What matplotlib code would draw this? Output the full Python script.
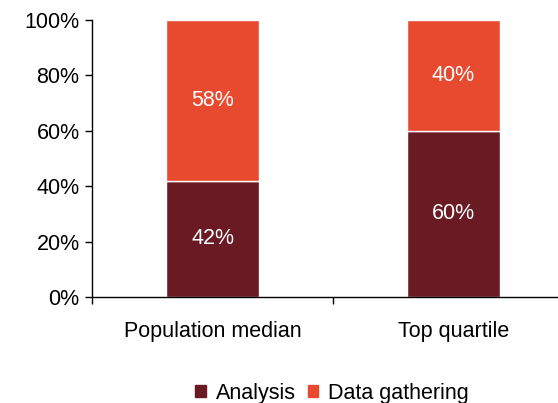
import matplotlib
matplotlib.use("Agg")
import matplotlib.pyplot as plt
from matplotlib.patches import Patch
import numpy as np

plt.rcParams['font.family'] = ['Liberation Sans', 'DejaVu Sans']

categories = ["Population median", "Top quartile"]
analysis = [42, 60]
data_gathering = [58, 40]
y_ticks = [0, 20, 40, 60, 80, 100]
y_tick_labels = ["0%", "20%", "40%", "60%", "80%", "100%"]

c_analysis = "#6A1A23"
c_gather = "#E84A30"
fs = 15.5

fig = plt.figure(figsize=(5.58, 4.03), dpi=100)
ax = fig.add_axes([92/558, 1 - 297/403, 482/558, 277/403])

x = np.arange(len(categories))
w = 0.39
ax.bar(x, analysis, width=w, color=c_analysis, edgecolor="white", linewidth=1)
ax.bar(x, data_gathering, width=w, bottom=analysis, color=c_gather,
       edgecolor="white", linewidth=1)

for xi, a, d in zip(x, analysis, data_gathering):
    ax.text(xi, a / 2, f"{a}%", ha="center", va="center", color="white", fontsize=fs)
    ax.text(xi, a + d / 2, f"{d}%", ha="center", va="center", color="white", fontsize=fs)

ax.set_xlim(-0.5, len(categories) - 0.5)
ax.set_ylim(0, 100)
ax.set_yticks(y_ticks)
ax.set_yticklabels(y_tick_labels, fontsize=fs)
ax.set_xticks(x)
ax.set_xticklabels(categories, fontsize=fs)
ax.tick_params(axis="x", which="major", length=0, pad=17)
ax.set_xticks(np.arange(-0.5, len(categories)), minor=True)
ax.tick_params(axis="x", which="minor", length=5, width=1, direction="out")
ax.tick_params(axis="y", length=5, width=1, direction="out", pad=4)

for s in ["top", "right"]:
    ax.spines[s].set_visible(False)
for s in ["left", "bottom"]:
    ax.spines[s].set_linewidth(1)

handles = [Patch(color=c_analysis, label="Analysis"),
           Patch(color=c_gather, label="Data gathering")]
fig.legend(handles=handles, loc="center", bbox_to_anchor=(332/558, 1 - 393/403),
           ncol=2, frameon=False, fontsize=fs, handlelength=0.5, handleheight=0.5,
           handletextpad=0.45, columnspacing=0.55, borderaxespad=0, borderpad=0)

fig.savefig("out.png", dpi=100)
